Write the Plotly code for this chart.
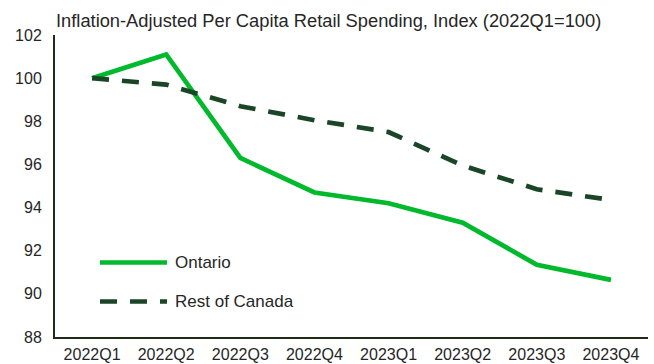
import plotly.graph_objects as go

quarters = ["2022Q1", "2022Q2", "2022Q3", "2022Q4", "2023Q1", "2023Q2", "2023Q3", "2023Q4"]
ontario = [100.0, 101.1, 96.3, 94.7, 94.2, 93.3, 91.35, 90.65]
rest_of_canada = [100.0, 99.7, 98.7, 98.05, 97.5, 95.95, 94.85, 94.35]
y_ticks = [88, 90, 92, 94, 96, 98, 100, 102]
series_names = ["Ontario", "Rest of Canada"]
title_text = "Inflation-Adjusted Per Capita Retail Spending, Index (2022Q1=100)"

W, H = 654, 364
L, R, T, B = 55, 6, 35, 27
PW, PH = W - L - R, H - T - B

ont_color = "#00B92C"
roc_color = "#1A4527"
dash = "17px,13px"
font = "Liberation Sans, Arial, sans-serif"
txt = "#262626"

fig = go.Figure()
fig.add_trace(go.Scatter(x=quarters, y=ontario, mode="lines", name=series_names[0],
                         showlegend=False, line=dict(color=ont_color, width=4.7)))
fig.add_trace(go.Scatter(x=quarters, y=rest_of_canada, mode="lines", name=series_names[1],
                         showlegend=False, line=dict(color=roc_color, width=4.7, dash=dash)))


def px_x(p):
    return (p - L) / PW


def px_y(p):
    return (H - B - p) / PH


# custom legend (inside plot, lower left)
legend_rows = [(series_names[0], ont_color, "solid", 262.5),
               (series_names[1], roc_color, dash, 301.5)]
for name, color, d, yy in legend_rows:
    fig.add_shape(type="line", xref="paper", yref="paper",
                  x0=px_x(100), x1=px_x(167), y0=px_y(yy), y1=px_y(yy),
                  line=dict(color=color, width=4.7, dash=d))
    fig.add_annotation(text=name, xref="paper", yref="paper", x=px_x(173), y=px_y(yy),
                       xanchor="left", yanchor="middle", showarrow=False,
                       font=dict(family=font, size=17, color=txt))

fig.add_annotation(text=title_text, xref="paper", yref="paper", x=px_x(54), y=px_y(20),
                   xanchor="left", yanchor="middle", showarrow=False,
                   font=dict(family=font, size=18.3, color=txt))

fig.update_layout(
    width=W, height=H,
    margin=dict(l=L, r=R, t=T, b=B, pad=0, autoexpand=False),
    plot_bgcolor="white", paper_bgcolor="white",
    font=dict(family=font, size=16, color=txt),
    showlegend=False,
    xaxis=dict(type="category", range=[-0.5, 7.5], showgrid=False, showline=True,
               linecolor="#1f2a17", linewidth=2, ticks="outside", ticklen=2,
               tickcolor="rgba(0,0,0,0)", tickfont=dict(size=16), automargin=False,
               zeroline=False, fixedrange=True),
    yaxis=dict(range=[88, 102], tickvals=y_ticks, showgrid=False, showline=True,
               linecolor="#1f2a17", linewidth=2, ticks="outside", ticklen=8,
               tickcolor="rgba(0,0,0,0)", tickfont=dict(size=16), automargin=False,
               zeroline=False, fixedrange=True),
)

fig.write_html("out.html")
